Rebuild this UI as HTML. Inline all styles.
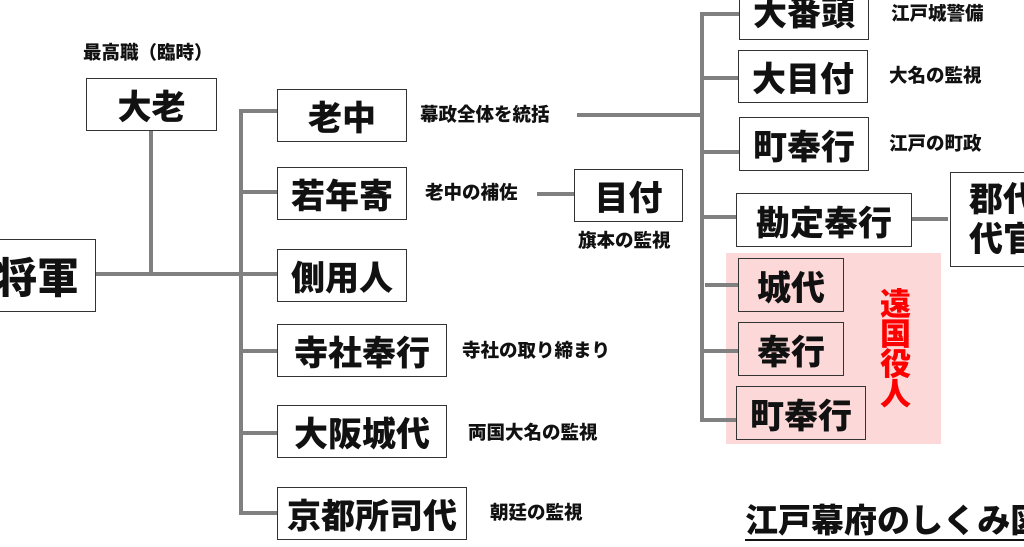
<!DOCTYPE html>
<html><head><meta charset="utf-8"><style>
body{margin:0;width:1024px;height:547px;background:#fff;overflow:hidden;position:relative;font-family:"Liberation Sans","Noto Sans CJK JP",sans-serif;font-weight:bold;color:#111}
.b{position:absolute;border:1.5px solid #333;background:#fff;box-sizing:border-box;display:flex;align-items:center;justify-content:center;font-size:34px;white-space:nowrap;overflow:hidden;font-weight:900}
.t{position:absolute;font-size:18.5px;white-space:nowrap;line-height:1;font-weight:900}
.l{position:absolute;background:#808080}
</style></head><body>
<div style="position:absolute;left:726px;top:253px;width:215px;height:191px;background:#fdd8d8"></div>
<div class="l" style="left:96px;top:272px;width:147px;height:4px"></div>
<div class="l" style="left:149px;top:131px;width:4px;height:143px"></div>
<div class="l" style="left:239px;top:109px;width:4px;height:406px"></div>
<div class="l" style="left:239px;top:109px;width:38px;height:4px"></div>
<div class="l" style="left:239px;top:190px;width:38px;height:4px"></div>
<div class="l" style="left:239px;top:272px;width:38px;height:4px"></div>
<div class="l" style="left:239px;top:349px;width:38px;height:4px"></div>
<div class="l" style="left:239px;top:431px;width:38px;height:4px"></div>
<div class="l" style="left:239px;top:511px;width:38px;height:4px"></div>
<div class="l" style="left:537px;top:192px;width:37px;height:4px"></div>
<div class="l" style="left:577px;top:113px;width:126px;height:4px"></div>
<div class="l" style="left:700px;top:12px;width:4px;height:410px"></div>
<div class="l" style="left:700px;top:12px;width:39px;height:4px"></div>
<div class="l" style="left:700px;top:76px;width:38px;height:4px"></div>
<div class="l" style="left:700px;top:150px;width:39px;height:4px"></div>
<div class="l" style="left:700px;top:215px;width:36px;height:4px"></div>
<div class="l" style="left:705px;top:283px;width:33px;height:4px"></div>
<div class="l" style="left:700px;top:349px;width:38px;height:4px"></div>
<div class="l" style="left:700px;top:418px;width:36px;height:4px"></div>
<div class="l" style="left:912px;top:217px;width:36px;height:4px"></div>
<div class="b" style="left:-60px;top:239px;width:156px;height:73px;font-size:42px;justify-content:flex-end;padding-right:16px">将軍</div>
<div class="b" style="left:86px;top:78px;width:131px;height:53px">大老</div>
<div class="t" style="left:83px;top:44px">最高職（臨時）</div>
<div class="b" style="left:277px;top:89px;width:130px;height:53px">老中</div>
<div class="b" style="left:277px;top:167px;width:130px;height:53px">若年寄</div>
<div class="b" style="left:277px;top:249px;width:130px;height:53px">側用人</div>
<div class="b" style="left:277px;top:324px;width:170px;height:53px">寺社奉行</div>
<div class="b" style="left:277px;top:405px;width:170px;height:53px">大阪城代</div>
<div class="b" style="left:277px;top:487px;width:190px;height:53px">京都所司代</div>
<div class="t" style="left:420px;top:106px">幕政全体を統括</div>
<div class="t" style="left:425px;top:184px">老中の補佐</div>
<div class="t" style="left:462px;top:342px">寺社の取り締まり</div>
<div class="t" style="left:468px;top:424px">両国大名の監視</div>
<div class="t" style="left:490px;top:504px">朝廷の監視</div>
<div class="b" style="left:574px;top:169px;width:109px;height:53px">目付</div>
<div class="t" style="left:578px;top:232px">旗本の監視</div>
<div class="b" style="left:739px;top:-12px;width:130px;height:52px;align-items:flex-end;padding-bottom:4px">大番頭</div>
<div class="b" style="left:738px;top:50px;width:130px;height:53px">大目付</div>
<div class="b" style="left:739px;top:117px;width:130px;height:54px">町奉行</div>
<div class="b" style="left:736px;top:193px;width:176px;height:54px">勘定奉行</div>
<div class="b" style="left:950px;top:172px;width:100px;height:95px;justify-content:center;padding-left:18px;line-height:40px;flex-direction:column;align-items:flex-start">郡代<br>代官</div>
<div class="t" style="left:891px;top:5px">江戸城警備</div>
<div class="t" style="left:889px;top:67px">大名の監視</div>
<div class="t" style="left:889px;top:135px">江戸の町政</div>
<div class="b" style="left:738px;top:258px;width:106px;height:54px;background:#fdd8d8">城代</div>
<div class="b" style="left:738px;top:322px;width:106px;height:54px;background:#fdd8d8">奉行</div>
<div class="b" style="left:736px;top:386px;width:130px;height:54px;background:#fdd8d8">町奉行</div>
<div class="t" style="left:880px;top:290px;font-size:31px;line-height:30px;color:#f00;width:32px;white-space:normal">遠国役人</div>
<div class="t" style="left:745px;top:503px;font-size:33px;line-height:36px;border-bottom:2px solid #111">江戸幕府のしくみ図</div>
</body></html>
